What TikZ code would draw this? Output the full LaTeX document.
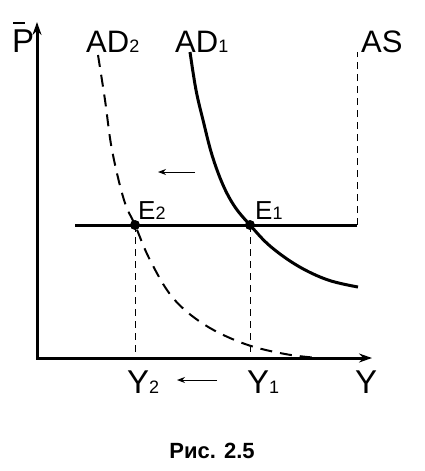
\documentclass[tikz,border=0pt]{standalone}
\usepackage{fontspec}
\setmainfont{Liberation Sans}
\usetikzlibrary{arrows.meta}
\newcommand{\lowsub}[1]{{\fontsize{18}{18}\selectfont #1}}
\newcommand{\esub}[1]{{\fontsize{18}{18}\selectfont #1}}
\begin{document}
\begin{tikzpicture}[x=1pt,y=-1pt,
  axis/.style={line width=3pt, line join=miter, {Stealth[length=13pt,width=9pt]}-{Stealth[length=13pt,width=9pt]}},
  thickline/.style={line width=3pt},
  guide/.style={line width=1pt, dash pattern=on 7pt off 5pt},
  dot/.style={circle, fill=black, inner sep=0pt, minimum size=10pt},
  shift arrow/.style={line width=1pt, -{Stealth[length=8pt,width=6pt]}},
  lbl/.style={anchor=base west, inner sep=0pt},
  big/.style={font=\fontsize{31}{31}\selectfont},
  bigger/.style={font=\fontsize{33}{33}\selectfont},
  mid/.style={font=\fontsize{26}{26}\selectfont},
]
\useasboundingbox (0,0) rectangle (425,471);
% axes
\coordinate (O) at (37,358);
\coordinate (Ptop) at (37,22);
\coordinate (Yend) at (372,358);
\draw[axis] (Ptop) -- (O) -- (Yend);
% AS curve
\coordinate (Hl) at (75,225);
\coordinate (Hr) at (357,225);
\coordinate (AStop) at (357,52);
\draw[thickline] (Hl) -- (Hr);
\draw[guide] (Hr) -- (AStop);
% AD1
\draw[thickline] plot[smooth, tension=0.6] coordinates {(190,52) (196,90) (203,120) (212,155) (223,185) (235,207) (250,225) (270,246) (298,266) (328,280) (358,287)};
% AD2
\draw[line width=2pt, dash pattern=on 12pt off 8pt] plot[smooth, tension=0.6] coordinates {(98,55) (105,100) (112,150) (124,200) (135,225) (150,260) (173,298) (205,325) (245,344) (285,354) (318,358)};
% equilibrium points
\node[dot] (E2) at (135,225) {};
\node[dot] (E1) at (250,225) {};
\draw[guide] (E2.center) -- (E2.center |- O);
\draw[guide] (E1.center) -- (E1.center |- O);
% shift arrows
\coordinate (a1s) at (195,172);
\coordinate (a1e) at (158,172);
\draw[shift arrow] (a1s) -- (a1e);
\coordinate (a2s) at (217,380);
\coordinate (a2e) at (177,380);
\draw[shift arrow] (a2s) -- (a2e);
% labels
\node[lbl, bigger] (Plab) at (12,52) {P};
\draw[line width=2.2pt] ([xshift=1pt,yshift=29pt]Plab.base west) -- ([xshift=13pt,yshift=29pt]Plab.base west);
\node[lbl, big] (AD2lab) at (86,52) {AD\lowsub{2}};
\node[lbl, big] (AD1lab) at (175,52) {AD\lowsub{1}};
\node[lbl, big] (ASlab) at (361,52) {AS};
\node[lbl, mid] (E2lab) at (138,219) {E\esub{2}};
\node[lbl, mid] (E1lab) at (255,219) {E\esub{1}};
\node[lbl, bigger] (Y2lab) at (127,393) {Y\lowsub{2}};
\node[lbl, bigger] (Y1lab) at (247,393) {Y\lowsub{1}};
\node[lbl, bigger] (Ylab) at (355,393) {Y};
\node[anchor=base, inner sep=0pt, font=\bfseries\fontsize{22}{22}\selectfont] (cap) at (212,458) {Рис. 2.5};
\end{tikzpicture}
\end{document}
